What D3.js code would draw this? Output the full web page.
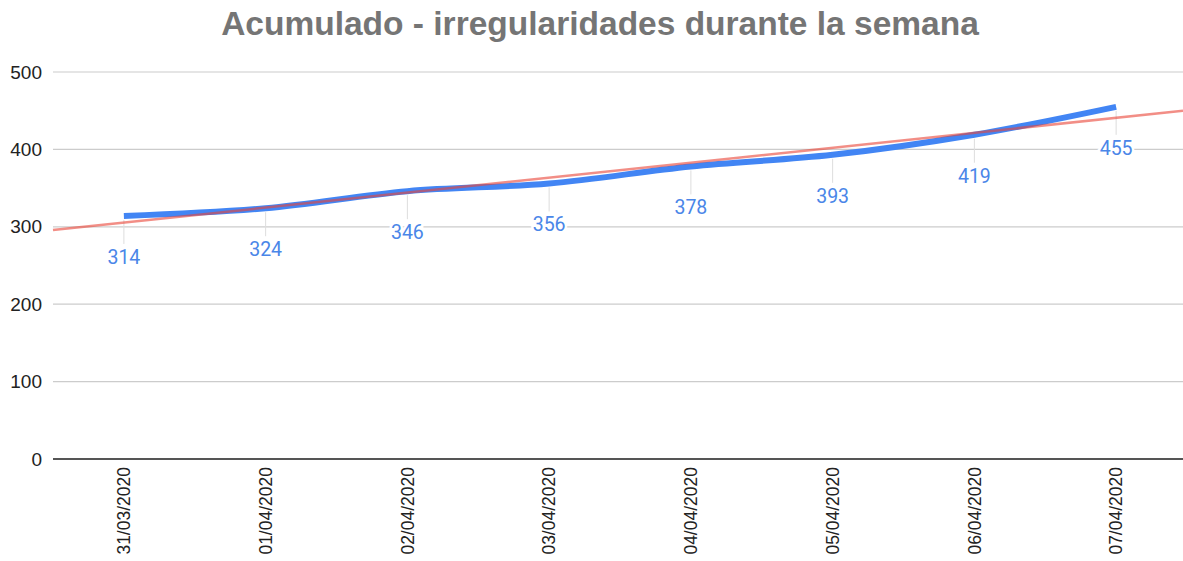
<!DOCTYPE html>
<html>
<head>
<meta charset="utf-8">
<script src="https://cdn.jsdelivr.net/npm/d3@7"></script>
<style>
  body { margin: 0; background: #fff; }
  svg { display: block; font-family: "Liberation Sans", Arial, sans-serif; }
</style>
</head>
<body>
<div id="chart"></div>
<script>
// Data
const dates = ['31/03/2020', '01/04/2020', '02/04/2020', '03/04/2020',
               '04/04/2020', '05/04/2020', '06/04/2020', '07/04/2020'];
const values = [314, 324, 346, 356, 378, 393, 419, 455];
const yTicks = [0, 100, 200, 300, 400, 500];

const svgWidth = 1183;
const svgHeight = 561;
const margin = { top: 72, right: 0, bottom: 102, left: 53 };
const width = svgWidth - margin.left - margin.right;
const height = svgHeight - margin.top - margin.bottom;

const svg = d3.select('#chart')
    .append('svg')
    .attr('width', svgWidth)
    .attr('height', svgHeight);

// Title
svg.append('text')
    .attr('x', 600)
    .attr('y', 35)
    .attr('text-anchor', 'middle')
    .style('font-size', '33.5px')
    .style('font-weight', 'bold')
    .style('fill', '#757575')
    .text('Acumulado - irregularidades durante la semana');

const g = svg.append('g')
    .attr('transform', `translate(${margin.left},${margin.top})`);

// Scales
const xScale = d3.scaleBand()
    .domain(dates)
    .range([0, width + 4]);

const yScale = d3.scaleLinear()
    .domain([0, 500])
    .range([height, 0]);

const cx = d => xScale(d) + xScale.bandwidth() / 2;

// Gridlines
g.selectAll('.grid')
    .data(yTicks.filter(t => t > 0))
    .enter()
    .append('line')
    .attr('x1', 0)
    .attr('x2', width)
    .attr('y1', d => yScale(d))
    .attr('y2', d => yScale(d))
    .attr('stroke', '#cccccc')
    .attr('stroke-width', 1.2);

// Y axis labels
g.append('g')
    .call(d3.axisLeft(yScale).tickValues(yTicks).tickSize(0).tickPadding(11))
    .call(a => a.select('.domain').remove())
    .selectAll('text')
    .style('font-family', '"Liberation Sans", Arial, sans-serif')
    .style('font-size', '19px')
    .style('fill', '#222');

// X axis (baseline + rotated labels)
const xAxis = g.append('g')
    .attr('transform', `translate(0, ${height})`)
    .call(d3.axisBottom(xScale).tickSize(0).tickPadding(0));
xAxis.select('.domain')
    .attr('d', `M0,0H${width}`)
    .attr('stroke', '#555')
    .attr('stroke-width', 2);
xAxis.selectAll('text')
    .attr('transform', 'rotate(-90)')
    .attr('x', -8)
    .attr('y', 0)
    .attr('dy', '0.35em')
    .attr('text-anchor', 'end')
    .style('font-family', '"Liberation Sans", Arial, sans-serif')
    .style('font-size', '17.5px')
    .style('fill', '#222');

// Leader lines from point to label
g.selectAll('.leader')
    .data(values)
    .enter()
    .append('line')
    .attr('x1', (d, i) => cx(dates[i]))
    .attr('x2', (d, i) => cx(dates[i]))
    .attr('y1', d => yScale(d) + 4)
    .attr('y2', d => yScale(d) + 28)
    .attr('stroke', '#dddddd')
    .attr('stroke-width', 1);

// Trend line (linear regression)
const mx = d3.mean(values, (d, i) => i);
const my = d3.mean(values);
const slope = d3.sum(values, (d, i) => (i - mx) * (d - my)) / d3.sum(values, (d, i) => (i - mx) * (i - mx));
const intercept = my - slope * mx;
const step = xScale.step();
const x0 = cx(dates[0]);
const idxAt = px => (px - x0) / step;

// Data line
g.append('path')
    .datum(values)
    .attr('fill', 'none')
    .attr('stroke', '#4285f4')
    .attr('stroke-width', 6)
    .attr('stroke-linejoin', 'round')
    .attr('d', d3.line()
        .x((d, i) => cx(dates[i]))
        .y(d => yScale(d))
        .curve(d3.curveMonotoneX));

g.append('line')
    .attr('x1', 0)
    .attr('x2', width)
    .attr('y1', yScale(intercept + slope * idxAt(0)))
    .attr('y2', yScale(intercept + slope * idxAt(width)))
    .attr('stroke', '#ea4335')
    .attr('stroke-opacity', 0.6)
    .attr('stroke-width', 2.5);

// Data labels with white halo
g.selectAll('.label')
    .data(values)
    .enter()
    .append('text')
    .attr('x', (d, i) => cx(dates[i]))
    .attr('y', d => yScale(d) + 48)
    .attr('text-anchor', 'middle')
    .style('font-family', 'Roboto, sans-serif')
    .style('font-size', '19.5px')
    .style('fill', '#4a86e8')
    .style('paint-order', 'stroke')
    .style('stroke', '#fff')
    .style('stroke-width', '5px')
    .text(d => d);
</script>
</body>
</html>
